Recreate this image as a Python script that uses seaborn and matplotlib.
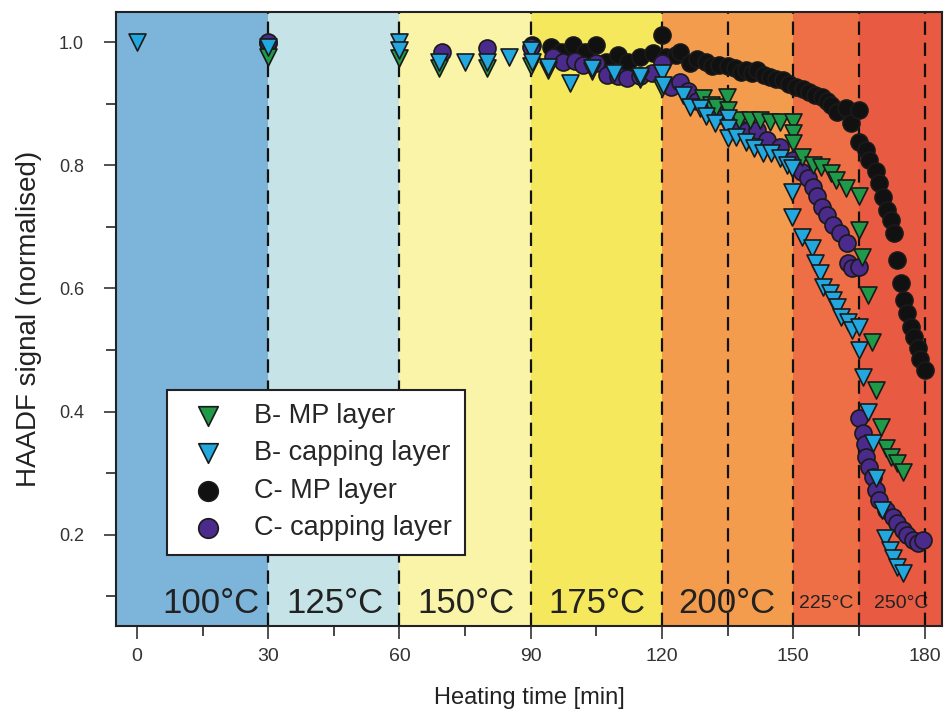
import numpy as np
import pandas as pd
import matplotlib
matplotlib.use("Agg")
import matplotlib.pyplot as plt
from matplotlib import font_manager
import seaborn as sns

# --- data ---
b_mp_time = [30, 60, 69, 80, 90, 94, 104, 115, 120,
             129.4, 131.3, 132.4, 134.8, 135.1, 137.7, 140, 142.3, 144.6, 146.9,
             149.9, 149.9, 149.9, 152.1, 154.4, 156.4, 158.7, 159.8, 162, 165,
             165, 165.8, 167, 168, 169, 170, 171.3, 172.4, 173.6, 175]
b_mp_signal = [0.976, 0.974, 0.958, 0.958, 0.962, 0.955, 0.953, 0.94, 0.925,
               0.909, 0.898, 0.894, 0.911, 0.89, 0.873, 0.873, 0.873, 0.871, 0.871,
               0.871, 0.852, 0.836, 0.814, 0.80, 0.798, 0.787, 0.776, 0.763, 0.75,
               0.695, 0.651, 0.589, 0.513, 0.435, 0.375, 0.341, 0.327, 0.317, 0.302]

b_cap_time = [0, 30, 60, 60, 69, 75, 80, 85, 90, 90.2, 94, 99, 104, 109, 115,
              120, 120.2, 124.7, 126.3, 128.6, 130, 132, 135, 135, 135, 137, 139.3,
              141, 143, 145, 146.9, 148.5, 149.8, 149.8, 149.8, 151.9, 154.2, 155,
              156, 156.7, 158.3, 159, 160, 161, 162.4, 163.5, 165, 165, 165.9, 167,
              168.2, 169, 170.2, 170.9, 172, 172.7, 173.8, 175]
b_cap_signal = [1.0, 0.992, 1.0, 0.987, 0.968, 0.968, 0.968, 0.976, 0.987, 0.968,
                0.96, 0.933, 0.958, 0.95, 0.945, 0.95, 0.93, 0.914, 0.895, 0.893,
                0.88, 0.868, 0.877, 0.86, 0.844, 0.846, 0.838, 0.828, 0.82, 0.82,
                0.812, 0.80, 0.795, 0.757, 0.716, 0.684, 0.666, 0.641, 0.625, 0.603,
                0.593, 0.581, 0.57, 0.554, 0.546, 0.533, 0.538, 0.50, 0.456, 0.40,
                0.349, 0.293, 0.24, 0.195, 0.176, 0.163, 0.148, 0.138]

c_mp_time = [30, 90.2, 94.7, 97, 99.7, 102.3, 105, 107.3, 110, 112.2, 114.9, 118,
             119.9, 121, 123.3, 124, 126.3, 128, 130, 131.5, 133, 135, 136.6, 138,
             139.3, 140.5, 141.8, 143.2, 144.6, 146, 147.6, 149, 150.7, 152.2, 153.7,
             155, 156.5, 157.6, 158.7, 160, 162, 163.3, 165, 165, 166.7, 167.4, 169,
             169.7, 170.4, 171.5, 172.4, 173.1, 173.8, 174.7, 175.4, 176.1, 177,
             177.7, 178.4, 179, 180]
c_mp_signal = [0.998, 0.995, 0.992, 0.984, 0.995, 0.984, 0.995, 0.968, 0.979, 0.968,
               0.976, 0.982, 1.011, 0.976, 0.979, 0.984, 0.966, 0.972, 0.968, 0.962,
               0.963, 0.962, 0.958, 0.952, 0.955, 0.95, 0.955, 0.946, 0.943, 0.94,
               0.938, 0.932, 0.927, 0.924, 0.919, 0.915, 0.911, 0.904, 0.898, 0.886,
               0.893, 0.869, 0.89, 0.838, 0.825, 0.809, 0.79, 0.771, 0.749, 0.727,
               0.711, 0.69, 0.646, 0.609, 0.581, 0.56, 0.538, 0.521, 0.503, 0.485,
               0.468]

c_cap_time = [30, 69.7, 80, 90, 95, 97.3, 100, 102, 105, 107.4, 110, 112, 115, 117.6,
              120, 122, 124, 126, 128, 130, 133, 135.5, 137.7, 139.5, 141.6, 143.9,
              146.9, 150, 151.9, 153.3, 154.5, 155.5, 156.5, 157.8, 159, 160.6, 162.2,
              162.4, 163.5, 165, 165.1, 166, 166.5, 166.7, 167.4, 168.2, 169, 169.7,
              171.3, 172.7, 173.8, 175, 176, 177.3, 178.4, 179.6]
c_cap_signal = [1.0, 0.984, 0.99, 0.992, 0.976, 0.968, 0.97, 0.963, 0.966, 0.946,
                0.945, 0.942, 0.945, 0.95, 0.966, 0.927, 0.935, 0.92, 0.905, 0.895,
                0.882, 0.87, 0.86, 0.855, 0.857, 0.841, 0.83, 0.809, 0.789, 0.78,
                0.765, 0.75, 0.732, 0.719, 0.703, 0.69, 0.674, 0.641, 0.633, 0.635,
                0.39, 0.366, 0.348, 0.327, 0.31, 0.294, 0.273, 0.257, 0.24, 0.229,
                0.219, 0.208, 0.2, 0.192, 0.187, 0.192]

# temperature steps (start/end of each stage in min) and their labels
stage_edges = [-5, 30, 60, 90, 120, 150, 165, 185]
stage_labels = ["100°C", "125°C", "150°C", "175°C", "200°C", "225°C", "250°C"]
label_pos = [16.9, 45.2, 75.2, 105, 134.8, 157.6, 174.7]
stage_colors = ["#7db4da", "#c6e4e8", "#faf4a8", "#f5e85c", "#f49c4d", "#ee6f45", "#e85a41"]
dashed_at = [30, 60, 90, 120, 135, 150, 165, 180]

sns.set_style("ticks")
names = [f.name for f in font_manager.fontManager.ttflist]
narrow = "Liberation Sans Narrow" if "Liberation Sans Narrow" in names else "Liberation Sans"
plt.rcParams["font.family"] = ["Liberation Sans", "DejaVu Sans"]

fig = plt.figure(figsize=(9.46, 7.22), dpi=100)
ax = fig.add_axes([0.1226, 0.133, 0.8732, 0.8504])

for i in range(len(stage_labels)):
    ax.axvspan(stage_edges[i], stage_edges[i + 1], color=stage_colors[i], lw=0, zorder=0)
    size = 25 if i < 5 else 14
    ax.text(label_pos[i], 0.089, stage_labels[i], ha="center", va="center",
            fontsize=size, family=narrow, color="#222222", zorder=1)
for t in dashed_at:
    ax.axvline(t, color="#111111", lw=1.6, ls=(0, (6, 3.5)), zorder=1)

series = [
    (c_mp_time, c_mp_signal, "C- MP layer", "o", "#111111"),
    (c_cap_time, c_cap_signal, "C- capping layer", "o", "#4a2a8a"),
    (b_mp_time, b_mp_signal, "B- MP layer", "v", "#1f9a48"),
    (b_cap_time, b_cap_signal, "B- capping layer", "v", "#22a7df"),
]
for xs, ys, lab, mk, col in series:
    df = pd.DataFrame({"time": xs, "signal": ys})
    sns.scatterplot(data=df, x="time", y="signal", marker=mk, color=col, s=150,
                    edgecolor="#1a1a1a", linewidth=1.2, label=lab, ax=ax, zorder=3)

ax.set_xlim(-4.8, 184)
ax.set_ylim(0.052, 1.049)
ax.set_xticks([0, 30, 60, 90, 120, 150, 180])
ax.set_xticks(np.arange(15, 180, 30), minor=True)
ax.set_yticks([0.2, 0.4, 0.6, 0.8, 1.0])
ax.set_yticks([0.1, 0.3, 0.5, 0.7, 0.9], minor=True)
ax.set_yticklabels(["0.2", "0.4", "0.6", "0.8", "1.0"])
ax.tick_params(axis="y", which="major", direction="out", length=9, width=1.2,
               pad=14, labelsize=13, colors="#333333")
ax.tick_params(axis="x", which="major", direction="out", length=9, width=1.2,
               pad=7, labelsize=14, colors="#333333")
ax.tick_params(axis="both", which="minor", direction="out", length=7, width=1.2)
for lbl in ax.get_xticklabels():
    lbl.set_fontfamily(narrow)
for sp in ax.spines.values():
    sp.set_linewidth(1.5)
    sp.set_color("#222222")

ax.set_xlabel("Heating time [min]", fontsize=17, family=narrow, color="#222222", labelpad=16)
ax.set_ylabel("HAADF signal (normalised)", fontsize=20, family=narrow, color="#222222", labelpad=12)

handles, labels = ax.get_legend_handles_labels()
order = [labels.index(n) for n in ["B- MP layer", "B- capping layer", "C- MP layer", "C- capping layer"]]
leg = ax.legend([handles[i] for i in order], [labels[i] for i in order],
                loc="lower left", bbox_to_anchor=(0.062, 0.116), fontsize=19.5,
                markerscale=1.15, frameon=True, fancybox=False, framealpha=1,
                edgecolor="#222222", labelspacing=0.42, handletextpad=0.7,
                borderpad=0.5, borderaxespad=0)
leg.get_frame().set_linewidth(1.5)
leg.set_zorder(5)

fig.savefig("out.png", dpi=100)
